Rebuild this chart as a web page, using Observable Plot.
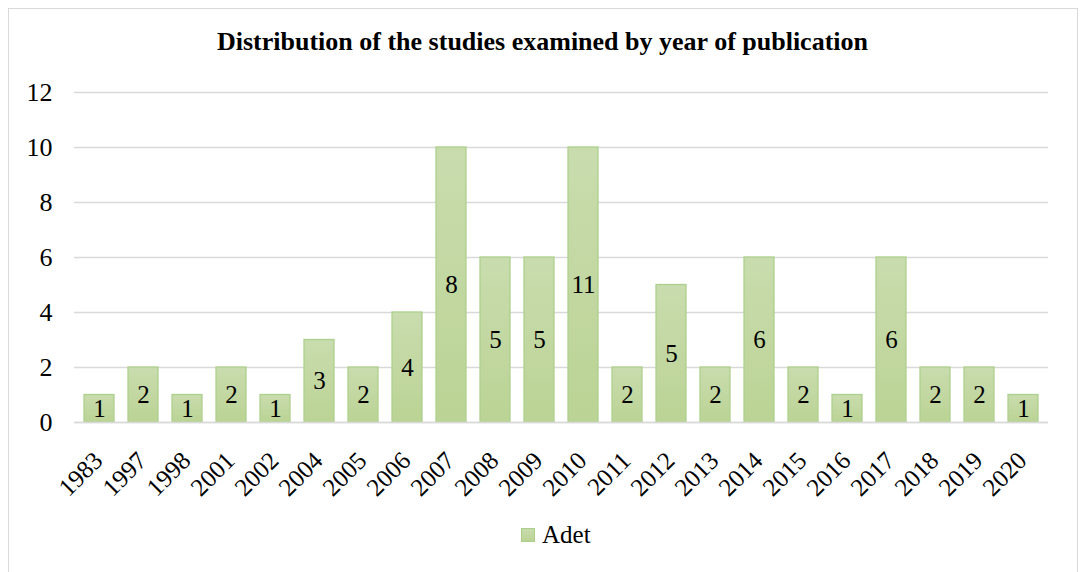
<!DOCTYPE html>
<html>
<head>
<meta charset="utf-8">
<script src="https://cdn.jsdelivr.net/npm/d3@7"></script>
<script src="https://cdn.jsdelivr.net/npm/@observablehq/plot@0.6"></script>
<style>
  html, body { margin: 0; padding: 0; background: #fff; width: 1082px; height: 572px; overflow: hidden; }
  #frame { position: absolute; left: 8px; top: 8px; width: 1070px; height: 600px; border: 1px solid #d9d9d9; box-sizing: border-box; }
  #title { position: absolute; left: 0; width: 1085px; top: 26px; text-align: center; font-family: "Liberation Serif", serif; font-weight: bold; font-size: 26px; color: #000; line-height: 32px; }
  #chart { position: absolute; left: 0; top: 70px; }
  #legend { position: absolute; left: 521px; top: 520px; font-family: "Liberation Serif", serif; font-size: 25px; color: #000; display: flex; align-items: center; line-height: 30px; }
  #legend .sw { width: 14px; height: 14px; background: linear-gradient(#c9dcae, #bbd394); border: 1px solid #a9cf8a; box-sizing: border-box; margin-right: 7px; }
</style>
</head>
<body>
<div id="frame"></div>
<div id="title">Distribution of the studies examined by year of publication</div>
<div id="chart"></div>
<div id="legend"><div class="sw"></div><span>Adet</span></div>
<script>
const years = ["1983","1997","1998","2001","2002","2004","2005","2006","2007","2008","2009","2010","2011","2012","2013","2014","2015","2016","2017","2018","2019","2020"];
const barHeights = [1,2,1,2,1,3,2,4,10,6,6,10,2,5,2,6,2,1,6,2,2,1];
const barLabels = [1,2,1,2,1,3,2,4,8,5,5,11,2,5,2,6,2,1,6,2,2,1];
const yTicks = [0,2,4,6,8,10,12];

const data = years.map((y, i) => ({year: y, h: barHeights[i], label: barLabels[i]}));

const FONT = "Liberation Serif, serif";

const plot = Plot.plot({
  width: 1082,
  height: 440,
  marginTop: 22,
  marginBottom: 88,
  marginLeft: 74,
  marginRight: 34,
  style: {fontFamily: FONT, color: "#000", background: "transparent"},
  x: {domain: years, label: null, paddingInner: 0.32, paddingOuter: 0.14},
  y: {domain: [0, 12], label: null},
  marks: [
    Plot.gridY(yTicks, {stroke: "#d9d9d9", strokeOpacity: 1, strokeWidth: 1.5}),
    Plot.axisY(yTicks, {tickSize: 0, tickPadding: 22, fontSize: 26, fontFamily: FONT, label: null, fill: "#000"}),
    Plot.axisX({tickSize: 0, tickRotate: -45, tickPadding: 27, dy: 7, dx: -1, fontSize: 25, fontFamily: FONT, label: null, fill: "#000"}),
    Plot.barY(data, {x: "year", y: "h", fill: "url(#barGrad)", stroke: "#aed08e", strokeWidth: 1.3}),
    Plot.ruleY([0], {stroke: "#d9d9d9", strokeWidth: 1.5}),
    Plot.text(data, {x: "year", y: d => d.h / 2, text: d => String(d.label), fontSize: 25, fontFamily: FONT, fill: "#000"})
  ]
});

const ns = "http://www.w3.org/2000/svg";
const defs = document.createElementNS(ns, "defs");
defs.innerHTML = '<linearGradient id="barGrad" x1="0" y1="0" x2="0" y2="1"><stop offset="0" stop-color="#c9dcae"/><stop offset="1" stop-color="#bbd394"/></linearGradient>';
plot.insertBefore(defs, plot.firstChild);

document.getElementById("chart").appendChild(plot);
</script>
</body>
</html>
